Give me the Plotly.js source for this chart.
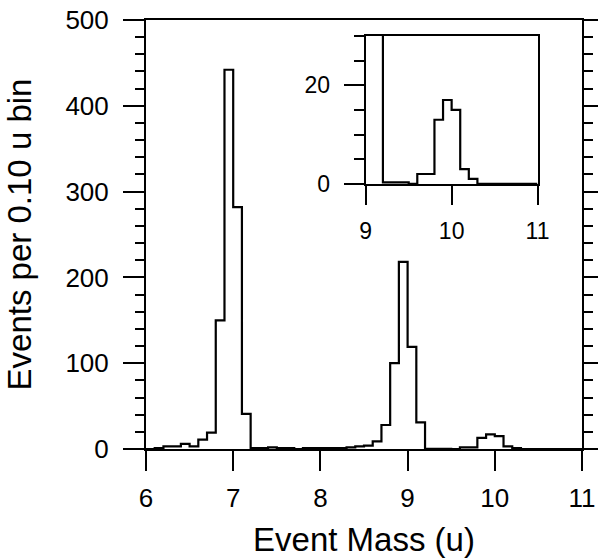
<!DOCTYPE html>
<html>
<head>
<meta charset="utf-8">
<script src="https://cdn.plot.ly/plotly-3.0.1.min.js"></script>
<style>html,body{margin:0;padding:0;background:#fff;}#chart{width:598px;height:558px;}</style>
</head>
<body>
<div id="chart"></div>
<script>
// Bin centres (u), 0.10 u bins
const binCenters = [6.05,6.15,6.25,6.35,6.45,6.55,6.65,6.75,6.85,6.95,
                    7.05,7.15,7.25,7.35,7.45,7.55,7.65,7.75,7.85,7.95,
                    8.05,8.15,8.25,8.35,8.45,8.55,8.65,8.75,8.85,8.95,
                    9.05,9.15,9.25,9.35,9.45,9.55,9.65,9.75,9.85,9.95,
                    10.05,10.15,10.25,10.35,10.45,10.55,10.65,10.75,10.85,10.95];
// Events per bin
const counts = [0,1,3,3,6,3,11,19,150,442,
                282,41,1,1,2,1,1,0,1,1,
                1,1,1,2,3,4,9,28,100,218,
                119,31,0.3,0.3,0.3,0,2,2,13,17,
                15,3,1,0,0,0,0,0,0,0];
const binWidth = 0.1;
const xTicks = [6,7,8,9,10,11];
const yTicks = [0,100,200,300,400,500];
const insetXTicks = [9,10,11];
const insetYTicks = [0,20];

// step outline: left edges + final right edge
const edges = binCenters.map(c => +(c - binWidth/2).toFixed(3));
edges.push(+(binCenters[binCenters.length-1] + binWidth/2).toFixed(3));
const stepY = counts.concat([counts[counts.length-1]]);

const font = 'Liberation Sans, Arial, Helvetica, sans-serif';
const line = {color:'#000', width:2.2, shape:'hv'};

const traces = [
  {x: edges, y: stepY, type:'scatter', mode:'lines', line: line, xaxis:'x', yaxis:'y', hoverinfo:'skip'},
  {x: edges, y: stepY, type:'scatter', mode:'lines', line: line, xaxis:'x2', yaxis:'y2', hoverinfo:'skip'}
];

const layout = {
  width: 598, height: 558,
  margin: {l:146, r:16, t:20, b:109, pad:0},
  paper_bgcolor:'#fff', plot_bgcolor:'#fff',
  showlegend:false,
  font: {family: font, color:'#000'},
  xaxis: {
    range:[6,11], tickvals: xTicks, ticktext: xTicks.map(String),
    ticks:'outside', ticklen:20, tickwidth:2, tickcolor:'#000',
    ticklabelstandoff:5,
    showline:true, linecolor:'#000', linewidth:2, mirror:true,
    showgrid:false, zeroline:false,
    tickfont:{size:26, family:font},
    title:{text:'Event Mass (u)', font:{size:33, family:font}, standoff:16}
  },
  yaxis: {
    range:[0,500], tickvals: yTicks, ticktext: yTicks.map(String),
    ticks:'outside', ticklen:21, tickwidth:2, tickcolor:'#000',
    ticklabelstandoff:9,
    minor:{dtick:20, ticks:'outside', ticklen:9, tickwidth:2, tickcolor:'#000', showgrid:false},
    showline:true, linecolor:'#000', linewidth:2, mirror:'ticks',
    showgrid:false, zeroline:false,
    tickfont:{size:26, family:font},
    title:{text:'Events per 0.10 u bin', font:{size:33, family:font}, standoff:24}
  },
  xaxis2: {
    domain:[0.504,0.898], anchor:'y2', range:[9,11],
    tickvals: insetXTicks, ticktext: insetXTicks.map(String),
    ticks:'outside', ticklen:19, tickwidth:2, tickcolor:'#000',
    ticklabelstandoff:7,
    showline:true, linecolor:'#000', linewidth:2, mirror:true,
    showgrid:false, zeroline:false,
    tickfont:{size:23, family:font}
  },
  yaxis2: {
    domain:[0.618,0.963], anchor:'x2', range:[0,30],
    tickvals: insetYTicks, ticktext: insetYTicks.map(String),
    ticks:'outside', ticklen:20, tickwidth:2, tickcolor:'#000',
    ticklabelstandoff:9,
    minor:{dtick:5, ticks:'outside', ticklen:10, tickwidth:2, tickcolor:'#000', showgrid:false},
    showline:true, linecolor:'#000', linewidth:2, mirror:true,
    showgrid:false, zeroline:false,
    tickfont:{size:23, family:font}
  }
};

Plotly.newPlot('chart', traces, layout, {displayModeBar:false, staticPlot:true});
</script>
</body>
</html>
